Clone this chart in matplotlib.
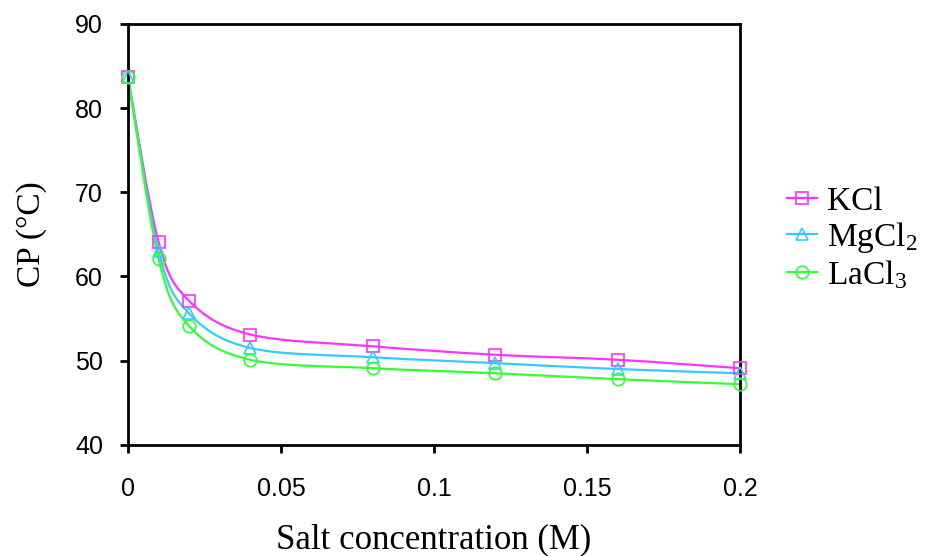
import matplotlib
matplotlib.use("Agg")
import matplotlib.pyplot as plt
from matplotlib.path import Path
from matplotlib.patches import PathPatch
from matplotlib.lines import Line2D
import numpy as np

salt = [0, 0.01, 0.02, 0.04, 0.08, 0.12, 0.16, 0.2]
kcl = [83.7, 64.1, 57.1, 53.1, 51.7, 50.7, 50.1, 49.1]
mgcl2 = [83.7, 63.0, 55.6, 51.5, 50.4, 49.7, 49.0, 48.5]
lacl3 = [83.7, 62.1, 54.1, 50.1, 49.1, 48.5, 47.8, 47.2]

series = [
    ("KCl", kcl, "#ff33ff", "s"),
    ("MgCl$\\mathregular{_2}$", mgcl2, "#33ccff", "^"),
    ("LaCl$\\mathregular{_3}$", lacl3, "#33ff33", "o"),
]


def smooth_path(x, y, tension=1 / 6):
    """Excel-like smoothed line: cubic bezier through every point."""
    x = np.asarray(x, float)
    y = np.asarray(y, float)
    verts = [(x[0], y[0])]
    codes = [Path.MOVETO]
    n = len(x)
    for i in range(n - 1):
        p0 = i - 1 if i > 0 else i
        p3 = i + 2 if i + 2 < n else i + 1
        c1 = (x[i] + (x[i + 1] - x[p0]) * tension, y[i] + (y[i + 1] - y[p0]) * tension)
        c2 = (x[i + 1] - (x[p3] - x[i]) * tension, y[i + 1] - (y[p3] - y[i]) * tension)
        verts += [c1, c2, (x[i + 1], y[i + 1])]
        codes += [Path.CURVE4] * 3
    return Path(verts, codes)


plt.rcParams["mathtext.fontset"] = "custom"
plt.rcParams["mathtext.rm"] = "Liberation Serif"

fig = plt.figure(figsize=(9.26, 5.56), dpi=100)
ax = fig.add_axes([0.1382, 0.2, 0.661, 0.757])

handles = []
for label, vals, color, marker in series:
    ax.add_patch(PathPatch(smooth_path(salt, vals), facecolor="none",
                           edgecolor=color, lw=1.6, zorder=2))
    ax.plot(salt, vals, linestyle="none", marker=marker, markersize=9,
            markerfacecolor="none", markeredgecolor=color, markeredgewidth=1.2,
            zorder=3, clip_on=False)
    handles.append(Line2D([], [], color=color, lw=1.6, marker=marker, markersize=9,
                          markerfacecolor="none", markeredgecolor=color,
                          markeredgewidth=1.2, label=label))

ax.set_xlim(0, 0.2)
ax.set_ylim(40, 90)
ax.set_xticks([0, 0.05, 0.1, 0.15, 0.2])
ax.set_xticklabels(["0", "0.05", "0.1", "0.15", "0.2"])
ax.set_yticks([40, 50, 60, 70, 80, 90])

for s in ax.spines.values():
    s.set_linewidth(2)
ax.tick_params(direction="out", length=6, width=2, labelsize=18, pad=12,
               top=False, right=False)
for t in ax.get_xticklabels() + ax.get_yticklabels():
    t.set_family("Liberation Sans")
ax.tick_params(axis="x", pad=17)

ax.set_xlabel("Salt concentration (M)", family="Liberation Serif", fontsize=25, labelpad=16)
ax.set_ylabel("CP (°C)", family="Liberation Serif", fontsize=24, labelpad=20)

ax.legend(handles=handles, loc="center left", bbox_to_anchor=(1.055, 0.49),
          frameon=False, prop={"family": "Liberation Serif", "size": 24},
          handlelength=0.9, handletextpad=0.3, labelspacing=0.1, borderaxespad=0)

fig.savefig("out.png", dpi=100)
